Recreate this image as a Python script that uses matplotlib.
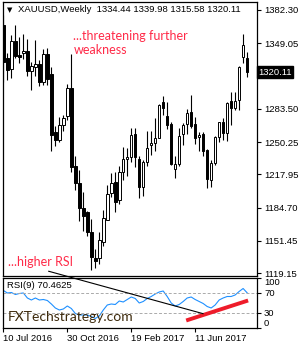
#!/usr/bin/env python3
"""
Weekly XAUUSD candles with RSI(9) pane, MT4 style
"""
import matplotlib
matplotlib.use("Agg")
from matplotlib import pyplot as plt
from matplotlib.patches import ConnectionPatch
from matplotlib.transforms import blended_transform_factory

plt.rcParams['font.family'] = ['Liberation Sans', 'DejaVu Sans']

# weekly bars, 10 Jul 2016 .. 10 Sep 2017
opens = [1367, 1334, 1323, 1351, 1337, 1339, 1341, 1321, 1325, 1328, 1310, 1338,
         1318, 1260, 1252, 1267, 1276, 1304, 1226, 1209, 1184, 1180, 1160, 1134,
         1134, 1150, 1172, 1199, 1210, 1192, 1220, 1233, 1235, 1258, 1233, 1205,
         1230, 1247, 1249, 1254, 1290, 1276, 1268, 1223, 1228, 1258, 1268, 1280,
         1268, 1255, 1258, 1242, 1212, 1229, 1255, 1270, 1259, 1291, 1284, 1292,
         1335, 1334.44]
highs = [1377, 1339, 1357, 1367, 1355, 1358, 1353, 1330, 1352, 1332, 1343, 1344,
         1325, 1266, 1275, 1277, 1308, 1338, 1236, 1222, 1200, 1181, 1173, 1143,
         1160, 1182, 1207, 1219, 1220, 1226, 1245, 1244, 1264, 1264, 1236, 1232,
         1261, 1261, 1274, 1288, 1296, 1290, 1270, 1236, 1264, 1269, 1283, 1297,
         1275, 1260, 1260, 1243, 1232, 1256, 1270, 1274, 1290, 1300, 1300, 1326,
         1358, 1339.98]
lows = [1310, 1312, 1314, 1334, 1329, 1333, 1316, 1302, 1316, 1306, 1307, 1307,
        1241, 1246, 1250, 1261, 1272, 1220, 1202, 1171, 1161, 1156, 1122, 1124,
        1128, 1146, 1172, 1195, 1180, 1188, 1212, 1216, 1230, 1225, 1194, 1196,
        1226, 1237, 1241, 1254, 1277, 1263, 1227, 1214, 1226, 1247, 1258, 1264,
        1248, 1241, 1236, 1204, 1205, 1227, 1250, 1252, 1251, 1267, 1282, 1282,
        1329, 1315.58]
closes = [1330, 1322, 1351, 1336, 1335, 1341, 1321, 1326, 1328, 1310, 1338, 1313,
          1257, 1252, 1267, 1274, 1304, 1225, 1209, 1184, 1176, 1160, 1135, 1131,
          1152, 1174, 1198, 1209, 1190, 1220, 1233, 1235, 1257, 1235, 1205, 1230,
          1244, 1249, 1254, 1287, 1284, 1267, 1228, 1228, 1256, 1267, 1279, 1266,
          1254, 1257, 1241, 1213, 1229, 1255, 1270, 1259, 1289, 1284, 1291, 1325,
          1347, 1320.11]
rsi = [75, 70, 71, 67, 69, 70, 60, 56, 60, 56, 57, 55,
       48, 40, 36, 38, 44, 39, 29, 26, 26, 26, 23, 19,
       24, 36, 46, 48, 47, 54, 52, 57, 62, 59, 50, 53,
       59, 63, 68, 72, 74, 63, 50, 44, 47, 53, 60, 62,
       57, 53, 49, 43, 40, 46, 56, 60, 63, 63, 66, 73,
       79, 70.46]

price_ticks = [1382.30, 1349.05, 1316.75, 1283.50, 1250.25, 1217.95, 1184.70, 1151.45, 1119.15]
date_idx = [0, 16, 32, 48]
date_labels = ["10 Jul 2016", "30 Oct 2016", "19 Feb 2017", "11 Jun 2017"]

RED = '#ff2a48'

fig = plt.figure(figsize=(3.0, 3.5), dpi=100)
ax = fig.add_axes([0.01, 0.2114, 0.847, 0.7829])
ax2 = fig.add_axes([0.01, 0.0629, 0.847, 0.1428])

x = list(range(len(closes)))
ax.vlines(x, lows, highs, color='black', lw=0.8, zorder=2)
bottoms = [min(o, c) for o, c in zip(opens, closes)]
heights = [max(abs(c - o), 0.4) for o, c in zip(opens, closes)]
faces = ['white' if c >= o else 'black' for o, c in zip(opens, closes)]
ax.bar(x, heights, bottom=bottoms, width=0.62, color=faces, edgecolor='black',
       linewidth=0.7, zorder=3)

ax.set_xlim(-0.1, 63.5)
ax.set_ylim(1116.2, 1390.3)
ax.set_xticks([])
ax.yaxis.tick_right()
ax.set_yticks(price_ticks)
# the 1316.75 label sits under the current price box, so leave it blank
ax.set_yticklabels(["" if abs(p - 1316.75) < 0.01 else "%.2f" % p for p in price_ticks])
ax.tick_params(axis='y', direction='out', length=3, width=0.8, pad=2, labelsize=6.8)
for s in ax.spines.values():
    s.set_linewidth(0.9)

# current price box
tr = blended_transform_factory(ax.transAxes, ax.transData)
ax.text(1.005, closes[-1], "1320.11", transform=tr, color='white', fontsize=6.8,
        va='center', ha='left', clip_on=False, zorder=10,
        bbox=dict(boxstyle='square,pad=0.15', fc='black', ec='black'))

ax.text(0.028, 0.971, u"\u25bc", transform=ax.transAxes, fontsize=5,
        va='center', ha='center', family=['DejaVu Sans'])
ax.text(0.059, 0.971, "XAUUSD,Weekly  1334.44 1339.98 1315.58 1320.11",
        transform=ax.transAxes, fontsize=6.8, va='center', ha='left')

ax.text(17.5, 1362, "...threatening further\nweakness", color=RED, fontsize=9,
        family=['Lato', 'DejaVu Sans'], va='top', ha='left', linespacing=1.15)
ax.text(1.25, 1130, "...higher RSI", color=RED, fontsize=9,
        family=['Lato', 'DejaVu Sans'], va='center', ha='left')

# RSI pane
ax2.plot(x, rsi, color='#1e90ff', lw=0.8)
ax2.axhline(70, color='#aaaaaa', lw=0.7, ls=(0, (3, 2)))
ax2.axhline(30, color='#aaaaaa', lw=0.7, ls=(0, (3, 2)))
ax2.set_xlim(-0.1, 63.5)
ax2.set_ylim(0, 100)
ax2.yaxis.tick_right()
ax2.set_yticks([100, 70, 30, 0])
ax2.set_yticklabels(["100", "70", "30", "0"])
ax2.tick_params(axis='y', direction='out', length=3, width=0.8, pad=2, labelsize=6.8)
ylabs = ax2.get_yticklabels()
ylabs[0].set_va('top')
ylabs[3].set_va('bottom')
ax2.set_xticks(date_idx)
ax2.set_xticklabels(date_labels, ha='left')
ax2.tick_params(axis='x', direction='out', length=3, width=0.8, pad=1, labelsize=6.8)
for s in ax2.spines.values():
    s.set_linewidth(0.9)

ax2.text(0.016, 85, "RSI(9) 70.4625", transform=blended_transform_factory(ax2.transAxes, ax2.transData),
         fontsize=6.8, va='center', ha='left')
ax2.text(0.02, 22, "FXTechstrategy.com", transform=blended_transform_factory(ax2.transAxes, ax2.transData),
         fontsize=10, color='#3d2a0c', family=['Lato', 'DejaVu Sans'], va='center', ha='left')

# divergence lines
ax2.plot([45.75, 61.25], [15, 55], color='#ee1c2a', lw=2.8, solid_capstyle='butt')
con = ConnectionPatch(xyA=(11.3, 1121), coordsA=ax.transData,
                      xyB=(50, 28.6), coordsB=ax2.transData,
                      color='black', lw=0.8)
fig.add_artist(con)

fig.savefig("out.png", dpi=100)
